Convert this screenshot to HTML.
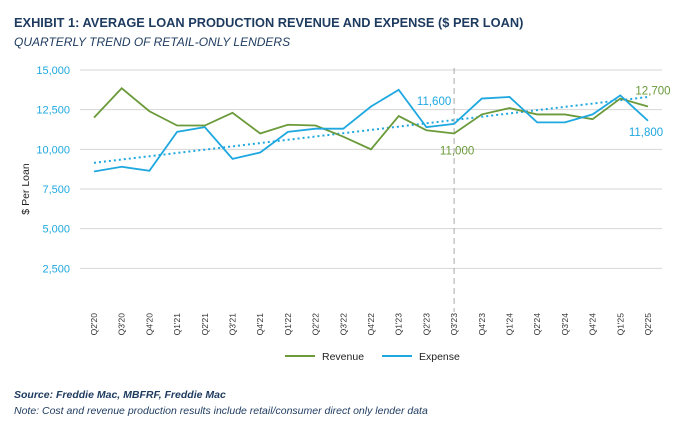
<!DOCTYPE html>
<html><head><meta charset="utf-8"><style>
body{margin:0;width:692px;height:429px;background:#fff;font-family:"Liberation Sans",sans-serif;overflow:hidden}
svg{position:absolute;left:0;top:0}
</style></head><body>
<svg width="692" height="429" id="chart">
<text x="14" y="27" font-size="12.8" font-weight="bold" fill="#1d3a5f">EXHIBIT 1: AVERAGE LOAN PRODUCTION REVENUE AND EXPENSE ($ PER LOAN)</text>
<text x="14" y="46" font-size="12" font-style="italic" fill="#1d3a5f">QUARTERLY TREND OF RETAIL-ONLY LENDERS</text>
<g id="grid"></g><g id="yt"></g><g id="xt"></g><g id="marks"></g>
<text transform="translate(29,189) rotate(-90)" text-anchor="middle" font-size="10.5" fill="#222">$ Per Loan</text>
<line x1="285" y1="356" x2="315" y2="356" stroke="#6a9a3a" stroke-width="2"/>
<text x="322" y="360" font-size="10.5" fill="#222">Revenue</text>
<line x1="382" y1="356" x2="412" y2="356" stroke="#1fa8e0" stroke-width="2"/>
<text x="419" y="360" font-size="10.5" fill="#222">Expense</text>
<text x="14" y="398" font-size="10.5" font-weight="bold" font-style="italic" fill="#1d3a5f">Source: Freddie Mac, MBFRF, Freddie Mac</text>
<text x="14" y="414" font-size="10.5" font-style="italic" fill="#1d3a5f">Note: Cost and revenue production results include retail/consumer direct only lender data</text>
</svg>
<script>
const categories=["Q2'20","Q3'20","Q4'20","Q1'21","Q2'21","Q3'21","Q4'21","Q1'22","Q2'22","Q3'22","Q4'22","Q1'23","Q2'23","Q3'23","Q4'23","Q1'24","Q2'24","Q3'24","Q4'24","Q1'25","Q2'25"];
const revenue=[12000,13850,12400,11500,11500,12300,11000,11550,11500,10800,10000,12100,11200,11000,12200,12600,12200,12200,11900,13200,12700];
const expense=[8600,8900,8650,11100,11400,9400,9800,11100,11300,11300,12700,13750,11400,11600,13200,13300,11700,11700,12200,13400,11800];
const trendEnds=[9150,13300];
const yTicks=[2500,5000,7500,10000,12500,15000];
const NS="http://www.w3.org/2000/svg";
const x=i=>94+i*(648-94)/(categories.length-1);
const y=v=>308-v*(308-70)/15000;
function mk(tag,attrs,parent){const e=document.createElementNS(NS,tag);for(const k in attrs)e.setAttribute(k,attrs[k]);document.getElementById(parent).appendChild(e);return e;}
yTicks.forEach(t=>{
 const l=mk('line',{x1:80,x2:662,y1:y(t),y2:y(t),stroke:'#d6d6d6','stroke-width':1},'grid');
 
 
 const tx=mk('text',{x:70,y:y(t)+4,'text-anchor':'end','font-size':11,fill:'#1fa8e0'},'yt');
 tx.textContent=t.toLocaleString('en-US');
 
 
});
categories.forEach((c,i)=>{
 const tx=mk('text',{transform:`translate(${x(i)+3},313) rotate(-90)`,'text-anchor':'end','font-size':8.5,fill:'#333'},'xt');
 tx.textContent=c;
 
 
});
const dl=mk('line',{x1:x(13),x2:x(13),y1:68,y2:312,stroke:'#aaa','stroke-dasharray':'6,4'},'marks');


const tl=mk('line',{x1:x(0),y1:y(trendEnds[0]),x2:x(categories.length-1),y2:y(trendEnds[1]),stroke:'#1fa8e0','stroke-width':2,'stroke-dasharray':'2,3'},'marks');


function line(data,color,name){
 const p=mk('polyline',{points:data.map((v,i)=>x(i)+','+y(v)).join(' '),fill:'none',stroke:color,'stroke-width':1.8},'marks');
 
 
}
line(revenue,'#6a9a3a','revenue-line');
line(expense,'#1fa8e0','expense-line');
function lab(txt,xx,yy,color,name){const t=mk('text',{x:xx,y:yy,'text-anchor':'middle','font-size':11.5,fill:color},'marks');t.textContent=txt;
 
 }
lab('11,600',x(13)-20,y(expense[13])-19,'#1fa8e0','label-expense-q3-23');
lab('11,000',x(13)+3,y(revenue[13])+21,'#6a9a3a','label-revenue-q3-23');
lab('12,700',x(20)+5,y(revenue[20])-12,'#6a9a3a','label-revenue-q2-25');
lab('11,800',x(20)-2,y(expense[20])+15,'#1fa8e0','label-expense-q2-25');
</script>
</body></html>
